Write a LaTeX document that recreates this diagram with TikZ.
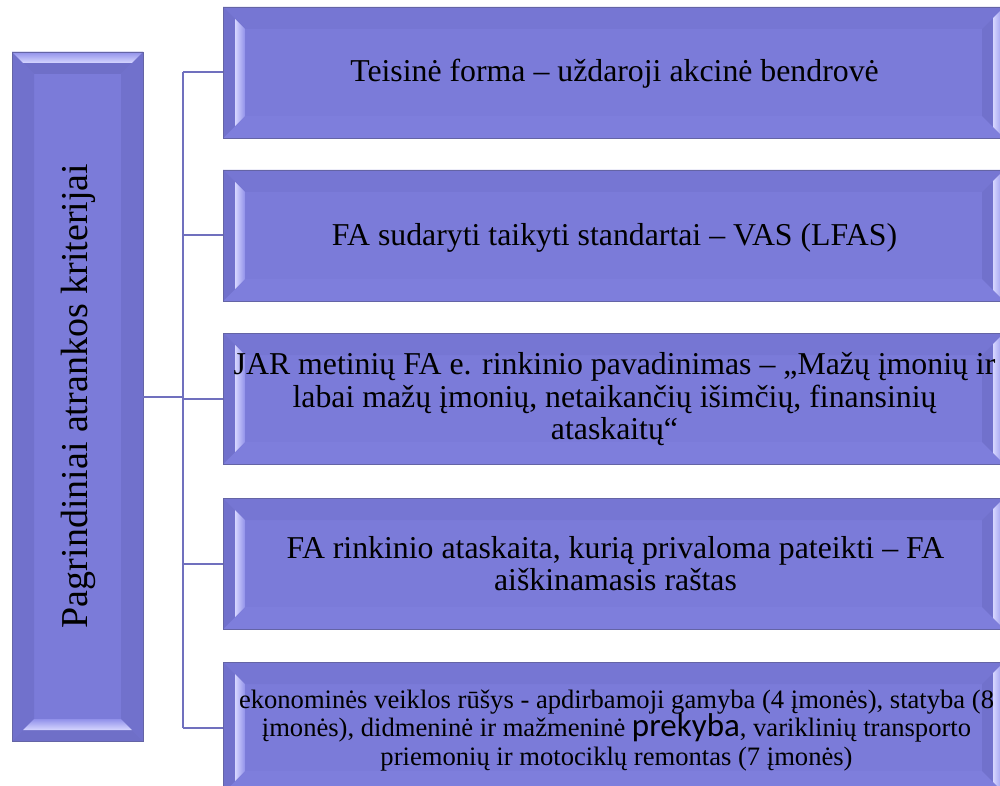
\documentclass[tikz,border=0pt]{standalone}
\usepackage{fontspec}
\setmainfont{Liberation Serif}
\newfontfamily\calib{Carlito}
\usetikzlibrary{calc}
\definecolor{bodyc}{RGB}{123,123,217}
\definecolor{bvtopc}{RGB}{118,118,211}
\definecolor{bvbotc}{RGB}{126,126,220}
\definecolor{bvsidec}{RGB}{113,113,204}
\definecolor{bvdarkc}{RGB}{111,111,200}
\definecolor{blight}{RGB}{214,214,255}
\definecolor{bmid}{RGB}{145,145,234}
\definecolor{edgec}{RGB}{100,100,165}
\definecolor{connc}{RGB}{112,112,190}
\tikzset{
  boxbase/.style={fill=bodyc, draw=edgec, line width=0.8pt, inner sep=0pt, outer sep=0pt},
  rbox/.style={boxbase, minimum width=781pt, minimum height=131pt},
  lbox/.style={boxbase, minimum width=131pt, minimum height=689pt},
  conn/.style={draw=connc, line width=2pt},
  btext/.style={align=center, font=\fontsize{31.8}{32.5}\selectfont, text=black},
  stext/.style={align=center, font=\fontsize{26.6}{28.8}\selectfont, text=black},
  ltext/.style={rotate=90, font=\fontsize{38}{40}\selectfont, text=black}
}
\newcommand\bevR[1]{%
 \fill[bvtopc] (#1.north west) -- (#1.north east) -- ([shift={(-22pt,-22pt)}]#1.north east) -- ([shift={(22pt,-22pt)}]#1.north west) -- cycle;
 \fill[bvbotc] (#1.south west) -- (#1.south east) -- ([shift={(-22pt,22pt)}]#1.south east) -- ([shift={(22pt,22pt)}]#1.south west) -- cycle;
 \fill[bvsidec] (#1.north west) -- ([shift={(22pt,-22pt)}]#1.north west) -- ([shift={(22pt,22pt)}]#1.south west) -- (#1.south west) -- cycle;
 \shade[left color=blight,right color=bmid] ([shift={(12pt,-12pt)}]#1.north west) -- ([shift={(22pt,-22pt)}]#1.north west) -- ([shift={(22pt,22pt)}]#1.south west) -- ([shift={(12pt,12pt)}]#1.south west) -- cycle;
 \fill[bvsidec] (#1.north east) -- ([shift={(-22pt,-22pt)}]#1.north east) -- ([shift={(-22pt,22pt)}]#1.south east) -- (#1.south east) -- cycle;
 \shade[left color=blight,right color=bmid] (#1.north east) -- ([shift={(-11pt,-11pt)}]#1.north east) -- ([shift={(-11pt,11pt)}]#1.south east) -- (#1.south east) -- cycle;
 \draw[edgec, line width=0.8pt] (#1.north west) rectangle (#1.south east);
}
\newcommand\bevL[1]{%
 \fill[bvsidec] (#1.north west) -- ([shift={(22pt,-22pt)}]#1.north west) -- ([shift={(22pt,22pt)}]#1.south west) -- (#1.south west) -- cycle;
 \fill[bvsidec] (#1.north east) -- ([shift={(-22pt,-22pt)}]#1.north east) -- ([shift={(-22pt,22pt)}]#1.south east) -- (#1.south east) -- cycle;
 \fill[bvdarkc] (#1.north west) -- (#1.north east) -- ([shift={(-22pt,-22pt)}]#1.north east) -- ([shift={(22pt,-22pt)}]#1.north west) -- cycle;
 \shade[top color=bmid,bottom color=blight] (#1.north west) -- (#1.north east) -- ([shift={(-11pt,-11pt)}]#1.north east) -- ([shift={(11pt,-11pt)}]#1.north west) -- cycle;
 \fill[bvdarkc] (#1.south west) -- (#1.south east) -- ([shift={(-22pt,22pt)}]#1.south east) -- ([shift={(22pt,22pt)}]#1.south west) -- cycle;
 \shade[top color=bmid,bottom color=blight] ([shift={(22pt,22pt)}]#1.south west) -- ([shift={(-22pt,22pt)}]#1.south east) -- ([shift={(-11pt,11pt)}]#1.south east) -- ([shift={(11pt,11pt)}]#1.south west) -- cycle;
 \draw[edgec, line width=0.8pt] (#1.north west) rectangle (#1.south east);
}
\begin{document}
\begin{tikzpicture}[x=1pt,y=-1pt]
\useasboundingbox (0,0) rectangle (1000,786);
\fill[white] (0,0) rectangle (1000,786);
\clip (0,0) rectangle (1000,786);
% left box
\node[lbox] (L) at (77.5,396.5) {};
\bevL{L}
\node[ltext] (Lt) at (78,396) {Pagrindiniai atrankos kriterijai};
% right boxes
\node[rbox] (b1) at (613.5,72.5) {};
\node[rbox] (b2) at (613.5,235.5) {};
\node[rbox] (b3) at (613.5,398.5) {};
\node[rbox] (b4) at (613.5,563.5) {};
\node[rbox] (b5) at (613.5,727.5) {};
\bevR{b1}\bevR{b2}\bevR{b3}\bevR{b4}\bevR{b5}
\node[btext] (t1) at ([xshift=1pt,yshift=-1pt]b1.center) {Teisinė forma – uždaroji akcinė bendrovė};
\node[btext] (t2) at ([xshift=1pt,yshift=-2pt]b2.center) {FA sudaryti taikyti standartai – VAS (LFAS)};
\node[btext] (t3) at ([xshift=1pt,yshift=-1pt]b3.center) {JAR metinių FA e. rinkinio pavadinimas – „Mažų įmonių ir\\labai mažų įmonių, netaikančių išimčių, finansinių\\ataskaitų“};
\node[btext] (t4) at ([xshift=2pt]b4.center) {FA rinkinio ataskaita, kurią privaloma pateikti – FA\\aiškinamasis raštas};
\node[stext] (t5) at ([xshift=3pt,yshift=-3pt]b5.center) {ekonominės veiklos rūšys - apdirbamoji gamyba (4 įmonės), statyba (8\\įmonės), didmeninė ir mažmeninė \smash{\calib\fontsize{33}{28}\selectfont prekyba}, variklinių transporto\\priemonių ir motociklų remontas (7 įmonės)};
% connectors
\coordinate (bus) at (183,0);
\draw[conn] (L.east) -- (L.east -| bus);
\draw[conn] (b1.west -| bus) -- (b5.west -| bus);
\foreach \b in {b1,b2,b3,b4,b5}{
  \draw[conn] (\b.west -| bus) -- (\b.west);
}
\end{tikzpicture}
\end{document}
